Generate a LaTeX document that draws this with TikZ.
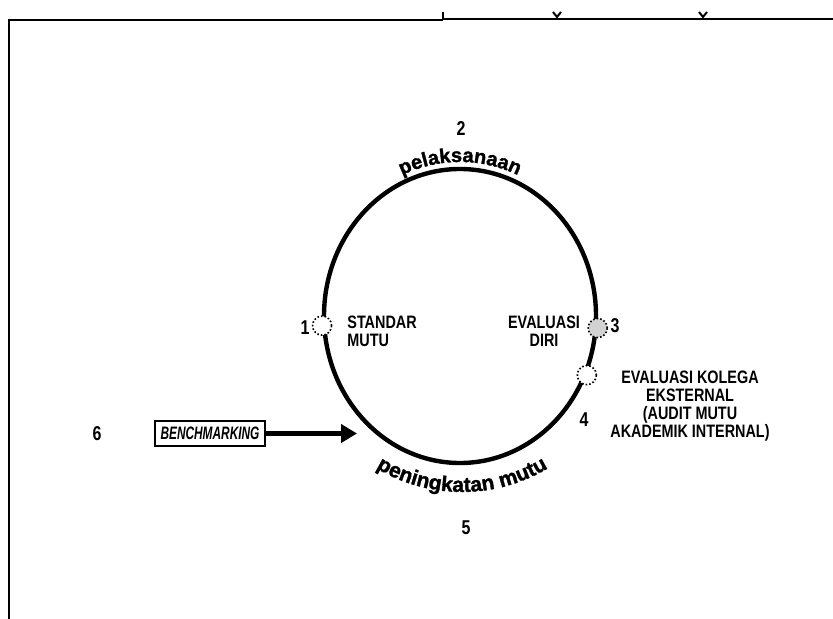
\documentclass[tikz,border=0pt]{standalone}
\usepackage{fontspec}
\setmainfont{Liberation Sans}
\newfontfamily\labelfont[FakeStretch=0.8]{Liberation Sans}
\newfontfamily\boxfont[FakeStretch=0.66]{Liberation Sans}
\newfontfamily\arcfont[FakeBold=1.5]{Liberation Sans Bold}
\usetikzlibrary{shapes,arrows.meta,positioning,decorations.text}

\begin{document}
\begin{tikzpicture}[x=0.5pt, y=-0.5pt, font=\labelfont\bfseries\fontsize{9}{9}\selectfont]
    \tikzstyle{ring} = [ellipse, draw, line width=2.2pt, minimum width=136pt, minimum height=147pt, inner sep=0pt]
    \tikzstyle{port} = [circle, draw, densely dotted, thick, fill=white, minimum size=9.5pt, inner sep=0pt]
    \tikzstyle{lbl} = [inner sep=0pt, align=center]
    \tikzstyle{num} = [inner sep=0pt, font=\labelfont\bfseries\fontsize{10}{10}\selectfont]
    \tikzstyle{box} = [rectangle, draw, line width=1.2pt, minimum width=55pt, minimum height=12.5pt, inner sep=0pt, font=\boxfont\bfseries\itshape\fontsize{9}{9}\selectfont]
    \tikzstyle{arrow} = [line width=2.5pt,-{Triangle[length=8pt,width=9pt]}]
    \tikzstyle{frame} = [line width=1pt]

    \useasboundingbox (0,0) rectangle (833,619);

    % frame of the page
    \draw [frame] (8,20) -- (443,20);
    \draw [frame] (443,12) -- (443,19) -- (833,19);
    \draw [frame] (9,20) -- (9,619);
    \draw [frame] (553,12) -- (557,17) -- (561,12);
    \draw [frame] (699,12) -- (703,17) -- (707,12);

    % the cycle
    \node (ring) [ring] at (460,316) {};
    \node (std) [port] at (ring.184) {};
    \node (self) [port, fill=gray!35] at (ring.355) {};
    \node (peer) [port] at (ring.335) {};

    \path [decorate, decoration={text along path, text align=center,
        text={|\arcfont\fontsize{10}{12}\selectfont|pelaksanaan}}]
        (388.5,182.6) arc [start angle=240, end angle=300, x radius=143, y radius=154];
    \path [decorate, decoration={text along path, text align=center,
        text={|\arcfont\fontsize{10.5}{12}\selectfont|peningkatan mutu}}]
        (344,443) arc [start angle=135, end angle=45, radius=167];

    % numbers
    \node (n1) [num] at (305,328) {1};
    \node (n2) [num] at (461,129) {2};
    \node (n3) [num] at (615,326) {3};
    \node (n4) [num] at (584,420) {4};
    \node (n5) [num] at (466,528) {5};
    \node (n6) [num] at (97,434) {6};

    % labels
    \node (stdtxt) [lbl, anchor=west, align=left] at (347,331) {STANDAR\\MUTU};
    \node (selftxt) [lbl] at (544,331) {EVALUASI\\DIRI};
    \node (peertxt) [lbl] at (690,406) {EVALUASI KOLEGA\\EKSTERNAL\\(AUDIT MUTU\\AKADEMIK INTERNAL)};

    % benchmarking input
    \node (bench) [box] at (210,433.5) {BENCHMARKING};
    \coordinate (hit) at (357,433.5);
    \draw [arrow] (bench) -- (hit);
\end{tikzpicture}
\end{document}
